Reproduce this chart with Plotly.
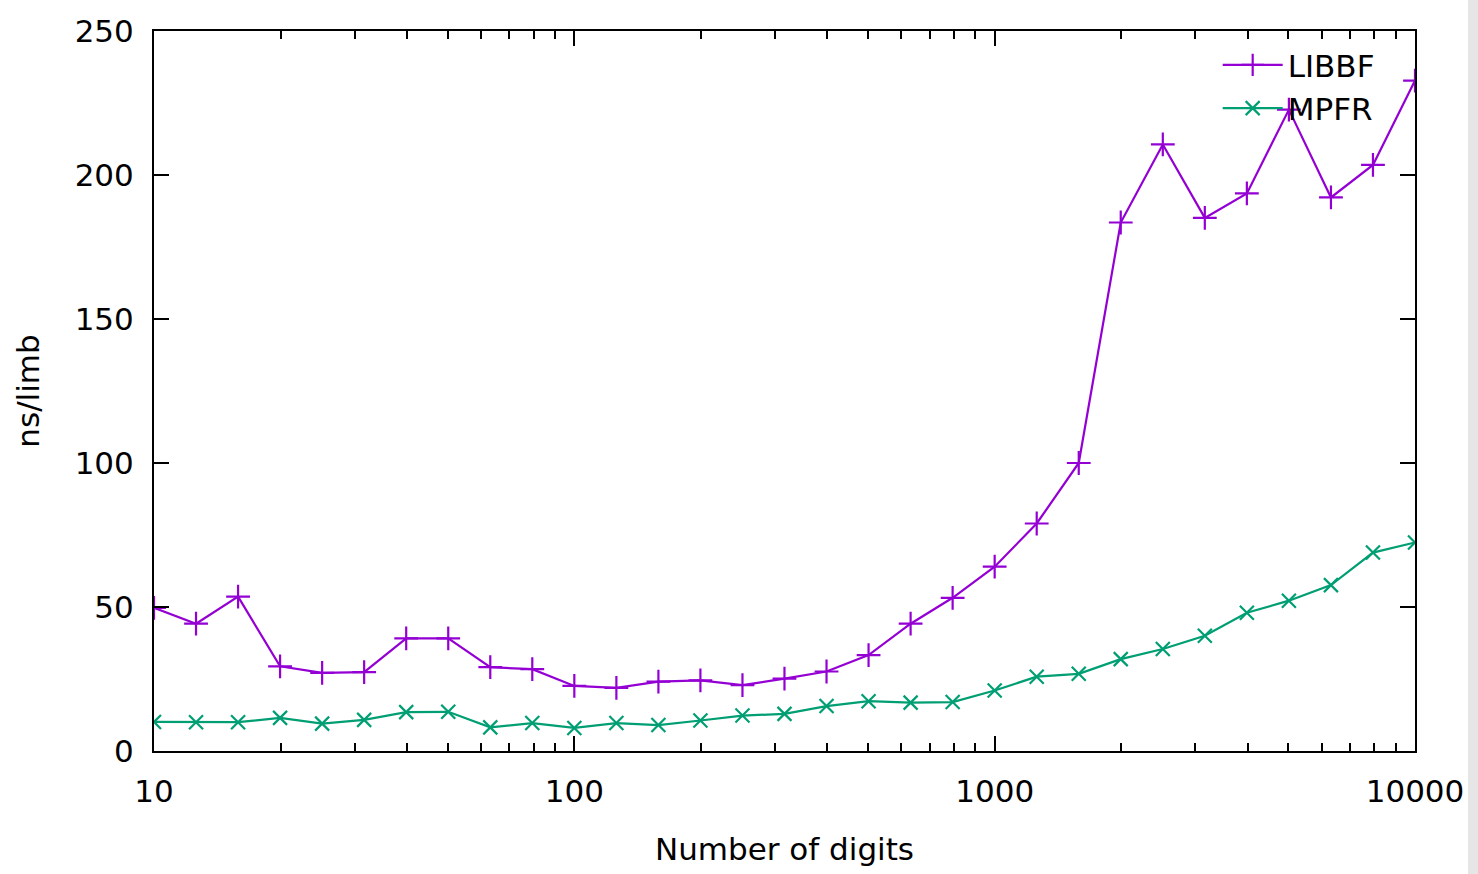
import plotly.graph_objects as go

digits = [10, 12.59, 15.85, 19.95, 25.12, 31.62, 39.81, 50.12, 63.1, 79.43,
          100, 125.9, 158.5, 199.5, 251.2, 316.2, 398.1, 501.2, 631, 794.3,
          1000, 1259, 1585, 1995, 2512, 3162, 3981, 5012, 6310, 7943, 10000]

libbf = [49.7, 44.2, 53.6, 29.4, 27.1, 27.4, 39.1, 39.1, 29.1, 28.4,
         22.6, 21.9, 24.1, 24.5, 22.9, 25.1, 27.6, 33.3, 44.2, 53.2,
         64.0, 79.0, 100.0, 183.5, 210.6, 185.1, 193.6, 222.7, 192.2, 203.5, 232.8]

mpfr = [10.1, 10.0, 10.0, 11.5, 9.5, 10.8, 13.5, 13.6, 8.2, 9.7,
        8.0, 9.7, 9.0, 10.6, 12.3, 12.9, 15.6, 17.3, 16.8, 17.0,
        21.0, 25.8, 26.8, 31.9, 35.4, 40.0, 48.0, 52.2, 57.6, 68.9, 72.4]

x_ticks = [10, 100, 1000, 10000]
x_minor = [m * d for d in (10, 100, 1000) for m in range(2, 10)]
y_ticks = [0, 50, 100, 150, 200, 250]

FONT = "DejaVu Sans"
FS = 31

fig = go.Figure()
fig.add_trace(go.Scatter(
    x=digits, y=libbf, name="LIBBF", mode="lines+markers",
    line=dict(color="#9400d3", width=2.2),
    marker=dict(symbol="cross-thin", size=17, line=dict(color="#9400d3", width=2.2)),
))
fig.add_trace(go.Scatter(
    x=digits, y=mpfr, name="MPFR", mode="lines+markers",
    line=dict(color="#009e73", width=2.2),
    marker=dict(symbol="x-thin", size=14, line=dict(color="#009e73", width=2.2)),
))

axis_common = dict(
    showline=True, linecolor="black", linewidth=2, mirror="allticks",
    ticks="inside", ticklen=15, tickwidth=1.5, tickcolor="black",
    showgrid=False, zeroline=False,
    tickfont=dict(family=FONT, size=FS, color="black"),
)

fig.update_xaxes(
    type="log", range=[1, 4], tickvals=x_ticks,
    ticktext=[str(v) for v in x_ticks],
    minor=dict(tickvals=x_minor, ticks="inside", ticklen=8, tickwidth=1.5,
               tickcolor="black", showgrid=False),
    ticklabelstandoff=12,
    title=dict(text="Number of digits", font=dict(family=FONT, size=FS, color="black"),
               standoff=30),
    **axis_common,
)
fig.update_yaxes(
    range=[0, 250], tickvals=y_ticks,
    ticklabelstandoff=12,
    title=dict(text="ns/limb", font=dict(family=FONT, size=FS, color="black"),
               standoff=26),
    **axis_common,
)

fig.update_layout(
    width=1478, height=874,
    margin=dict(l=154, r=63, t=31, b=123),
    paper_bgcolor="white", plot_bgcolor="white",
    font=dict(family=FONT, size=FS, color="black"),
    showlegend=True,
    legend=dict(x=0.972, y=0.99, xanchor="right", yanchor="top",
                bgcolor="rgba(0,0,0,0)", borderwidth=0,
                font=dict(family=FONT, size=FS, color="black"),
                itemwidth=60, tracegroupgap=0),
    shapes=[dict(type="rect", xref="paper", yref="paper",
                 x0=(1468 - 154) / 1261, x1=(1478 - 154) / 1261,
                 y0=-123 / 720, y1=1 + 31 / 720,
                 fillcolor="#e6e6e6", line=dict(width=0), layer="below")],
)

fig.write_html("out.html")
